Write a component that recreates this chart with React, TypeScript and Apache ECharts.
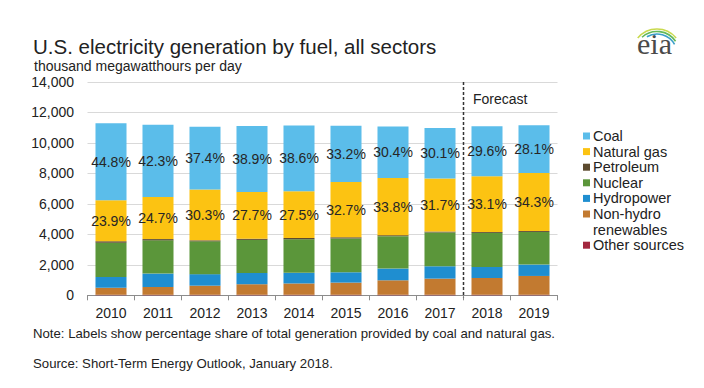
import React, { useEffect, useRef } from "react";
import * as echarts from "echarts";

const years = ["2010", "2011", "2012", "2013", "2014", "2015", "2016", "2017", "2018", "2019"];
const coal = [5053, 4744, 4121, 4318, 4312, 3692, 3380, 3308, 3274, 3125];
const naturalGas = [2696, 2770, 3338, 3075, 3072, 3636, 3759, 3484, 3661, 3814];
const petroleum = [100, 80, 63, 75, 83, 77, 66, 58, 60, 60];
const nuclear = [2245, 2182, 2155, 2172, 2200, 2220, 2128, 2220, 2237, 2143];
const hydropower = [700, 881, 756, 737, 700, 677, 769, 810, 725, 747];
const renewables = [465, 510, 595, 690, 740, 797, 948, 1058, 1100, 1233];
const otherSources = [35, 35, 37, 37, 37, 37, 37, 37, 37, 37];
const coalShare = ["44.8%", "42.3%", "37.4%", "38.9%", "38.6%", "33.2%", "30.4%", "30.1%", "29.6%", "28.1%"];
const gasShare = ["23.9%", "24.7%", "30.3%", "27.7%", "27.5%", "32.7%", "33.8%", "31.7%", "33.1%", "34.3%"];
const yTicks = [0, 2000, 4000, 6000, 8000, 10000, 12000, 14000];

const legendNames = ["Coal", "Natural gas", "Petroleum", "Nuclear", "Hydropower", "Non-hydro\nrenewables", "Other sources"];
const colors = {
  coal: "#5BBDEA",
  gas: "#FCC312",
  petroleum: "#5C4A2E",
  nuclear: "#5B963A",
  hydro: "#1F8ED0",
  renew: "#C27A30",
  other: "#A3283F",
};
const legendColors = [colors.coal, colors.gas, colors.petroleum, colors.nuclear, colors.hydro, colors.renew, colors.other];

const FONT = "'Liberation Sans', Arial, Helvetica, sans-serif";
const TEXT = "#222222";

export default function App() {
  const ref = useRef<HTMLDivElement>(null);
  useEffect(() => {
    document.body.style.margin = "0";
    if (!ref.current) return;
    const chart = echarts.init(ref.current, undefined, { renderer: "svg" });

    const bar = (name: string, data: number[], color: string, labels?: string[]) => ({
      name,
      type: "bar",
      stack: "total",
      data,
      barCategoryGap: "34%",
      itemStyle: { color },
      label: labels
        ? {
            show: true,
            position: "inside",
            fontFamily: FONT,
            fontSize: 14,
            color: "#262626",
            formatter: (p: any) => labels[p.dataIndex],
          }
        : { show: false },
      emphasis: { disabled: true },
    });

    chart.setOption({
      animation: false,
      textStyle: { fontFamily: FONT },
      title: [
        {
          text: "U.S. electricity generation by fuel, all sectors",
          left: 28,
          top: 30.5,
          textStyle: { fontFamily: FONT, fontSize: 20.5, fontWeight: "normal", color: TEXT },
        },
        {
          text: "thousand megawatthours per day",
          left: 29,
          top: 54,
          textStyle: { fontFamily: FONT, fontSize: 14, fontWeight: "normal", color: TEXT },
        },
      ],
      grid: { left: 87.5, right: 146.5, top: 82, bottom: 92.7 },
      xAxis: {
        type: "category",
        data: years,
        axisLine: { lineStyle: { color: "#8c8c8c", width: 1 } },
        axisTick: { show: true, length: 5, lineStyle: { color: "#8c8c8c" } },
        axisLabel: { fontFamily: FONT, fontSize: 14, color: TEXT, margin: 11 },
      },
      yAxis: {
        type: "value",
        min: yTicks[0],
        max: yTicks[yTicks.length - 1],
        interval: 2000,
        axisLine: { show: false },
        axisTick: { show: false },
        splitLine: { lineStyle: { color: "#d9d9d9", width: 1 } },
        axisLabel: {
          fontFamily: FONT,
          fontSize: 14,
          color: TEXT,
          margin: 13.5,
          formatter: (v: number) => v.toLocaleString("en-US"),
        },
      },
      series: [
        bar("Other sources", otherSources, colors.other),
        bar("Non-hydro renewables", renewables, colors.renew),
        bar("Hydropower", hydropower, colors.hydro),
        bar("Nuclear", nuclear, colors.nuclear),
        bar("Petroleum", petroleum, colors.petroleum),
        bar("Natural gas", naturalGas, colors.gas, gasShare),
        bar("Coal", coal, colors.coal, coalShare),
      ],
    });

    const x7 = chart.convertToPixel({ xAxisIndex: 0 }, years[7]) as number;
    const x8 = chart.convertToPixel({ xAxisIndex: 0 }, years[8]) as number;
    const xd = (x7 + x8) / 2;
    const yTop = chart.convertToPixel({ yAxisIndex: 0 }, yTicks[yTicks.length - 1]) as number;
    const yBot = chart.convertToPixel({ yAxisIndex: 0 }, 0) as number;

    const legendTop = 136;
    const legendY: number[] = [];
    let yy = legendTop;
    legendNames.forEach((n) => {
      legendY.push(yy);
      yy += 15.6 * n.split("\n").length;
    });

    const graphics: any[] = [
      {
        type: "line",
        shape: { x1: xd, y1: yTop, x2: xd, y2: yBot + 2 },
        style: { stroke: "#333", lineWidth: 1.5, lineDash: [3, 2] },
        z: 10,
      },
      {
        type: "text",
        x: xd + 9.5,
        y: 99,
        style: { text: "Forecast", fontFamily: FONT, fontSize: 14, fill: TEXT, textVerticalAlign: "middle" },
      },
      {
        type: "text",
        x: 33,
        y: 333,
        style: {
          text: "Note: Labels show percentage share of total generation provided by coal and natural gas.",
          fontFamily: FONT,
          fontSize: 13.2,
          fill: TEXT,
          textVerticalAlign: "middle",
        },
      },
      {
        type: "text",
        x: 33,
        y: 363,
        style: {
          text: "Source: Short-Term Energy Outlook, January 2018.",
          fontFamily: FONT,
          fontSize: 13.2,
          fill: TEXT,
          textVerticalAlign: "middle",
        },
      },
      // eia logo
      {
        type: "text",
        x: 637,
        y: 58,
        style: {
          text: "eia",
          fontFamily: "'Liberation Serif', 'DejaVu Serif', serif",
          fontSize: 30,
          fill: "#4a4a4a",
          textVerticalAlign: "bottom",
        },
      },
      {
        type: "arc",
        shape: { cx: 657, cy: 54, r: 25, startAngle: -2.45, endAngle: -0.7 },
        style: { stroke: "#C9D94E", lineWidth: 1.6, fill: null },
      },
      {
        type: "arc",
        shape: { cx: 657, cy: 54, r: 22.5, startAngle: -2.3, endAngle: -0.6 },
        style: { stroke: "#62B85A", lineWidth: 1.6, fill: null },
      },
      {
        type: "arc",
        shape: { cx: 657, cy: 54, r: 20, startAngle: -2.1, endAngle: -0.5 },
        style: { stroke: "#3A9FC9", lineWidth: 1.6, fill: null },
      },
    ];

    legendNames.forEach((n, i) => {
      graphics.push({
        type: "rect",
        shape: { x: 583, y: legendY[i] - 3.5, width: 7, height: 7 },
        style: { fill: legendColors[i] },
      });
      n.split("\n").forEach((line, j) => {
        graphics.push({
          type: "text",
          x: 593,
          y: legendY[i] + j * 15.6,
          style: { text: line, fontFamily: FONT, fontSize: 14.5, fill: TEXT, textVerticalAlign: "middle" },
        });
      });
    });

    chart.setOption({ graphic: graphics });

    return () => chart.dispose();
  }, []);

  return <div ref={ref} style={{ width: 704, height: 388 }} />;
}
